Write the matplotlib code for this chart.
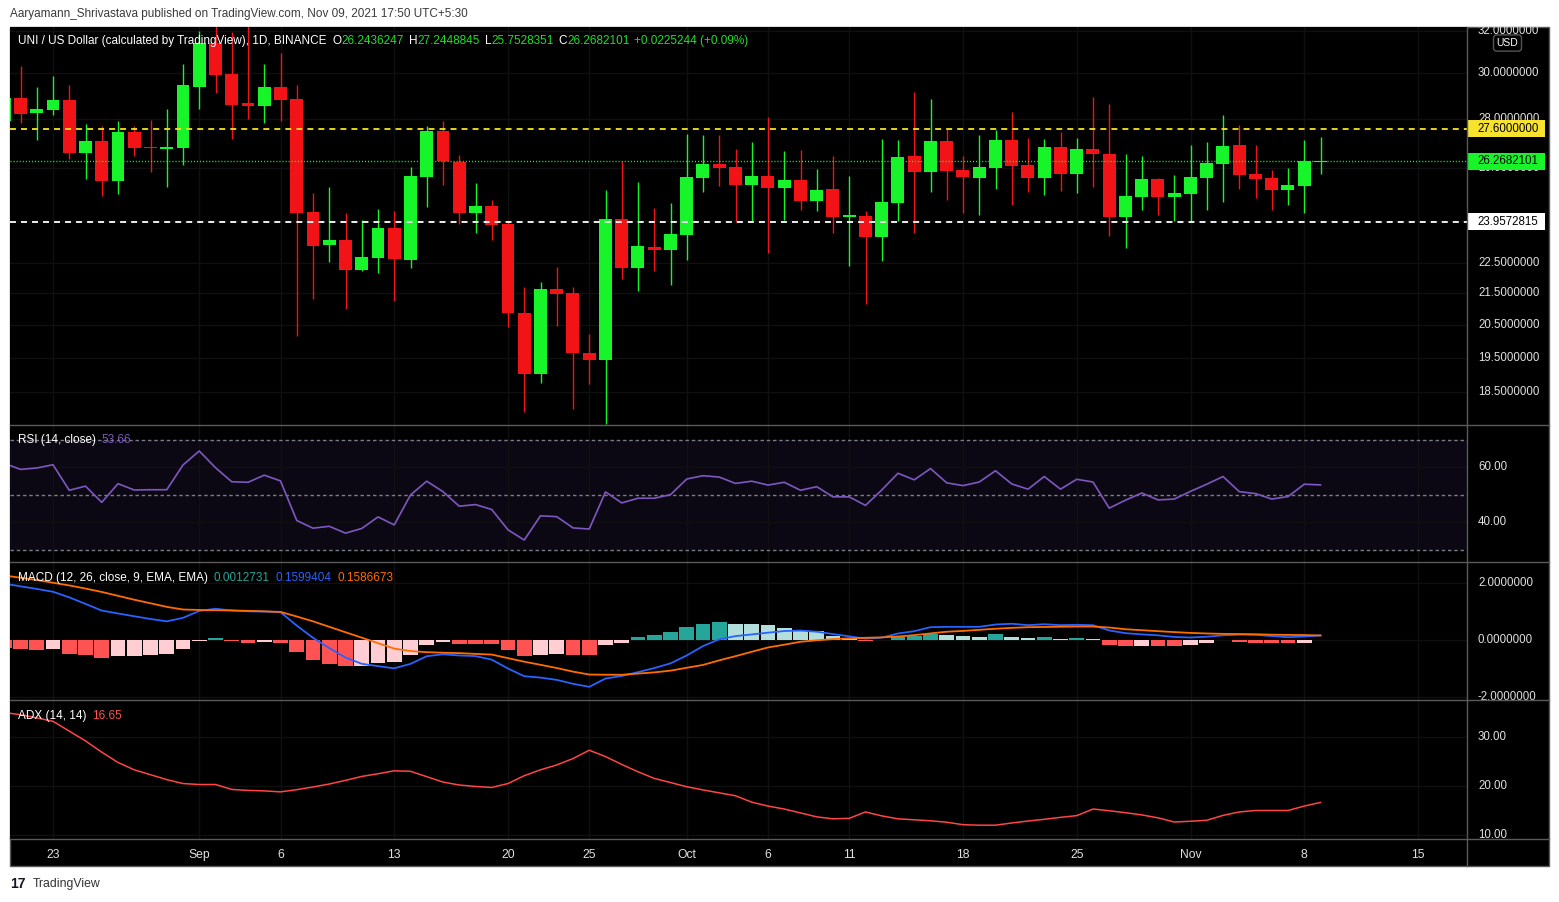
import numpy as np
import pandas as pd
import matplotlib
matplotlib.use('Agg')
import matplotlib.pyplot as plt
import matplotlib.dates as mdates
from matplotlib.patches import Rectangle
from matplotlib.lines import Line2D
from matplotlib.ticker import NullLocator
from matplotlib.transforms import Bbox, IdentityTransform, blended_transform_factory

plt.rcParams['font.family'] = ['Liberation Sans', 'DejaVu Sans']

# ---------------- datos ----------------
start_date = '2021-08-20'
end_date = '2021-11-09'

opens = [27.92, 28.91, 28.27, 28.39, 28.82, 26.60, 27.08, 25.49, 27.46, 26.84, 26.76, 26.80,
         29.39, 31.40, 29.98, 28.69, 28.56, 29.39, 28.86, 24.32, 23.14, 23.31,
         22.28, 22.68, 23.74, 22.62, 25.64, 27.50, 26.24, 24.29, 24.54, 23.88,
         20.87, 19.03, 21.64, 21.51, 19.64, 19.44, 24.06, 22.34, 23.06, 22.96,
         23.49, 25.61, 26.16, 26.04, 25.34, 25.68, 25.22, 25.53, 24.73, 25.18,
         24.14, 24.17, 23.42, 24.66, 26.47, 25.84, 27.08, 25.92, 25.61, 26.00,
         27.13, 26.12, 25.61, 26.84, 25.76, 26.76, 26.55, 24.14, 24.88, 25.57, 24.88,
         24.99, 25.61, 26.16, 26.92, 25.76, 25.61, 25.15, 25.30, 26.2436247]
highs = [29.26, 30.34, 29.39, 29.89, 29.48, 27.79, 27.71, 27.92, 27.71, 27.96, 28.43, 30.44,
         31.99, 32.60, 31.96, 32.30, 30.43, 30.95, 29.48, 25.03, 25.26, 24.29,
         24.03, 24.43, 24.36, 26.04, 27.71, 27.92, 26.51, 25.41, 24.77, 23.96,
         21.71, 21.87, 22.38, 21.71, 20.22, 25.15, 26.28, 25.45, 24.47, 24.66,
         27.37, 27.33, 27.33, 26.76, 27.04, 28.09, 26.68, 26.72, 25.96, 26.48,
         25.68, 24.36, 27.17, 27.13, 29.17, 28.86, 27.58, 26.48, 27.33, 27.54,
         28.30, 27.21, 27.17, 27.46, 27.21, 28.95, 28.65, 26.55, 26.48, 25.61, 25.72,
         26.92, 27.04, 28.17, 27.75, 26.92, 25.92, 26.00, 27.13, 27.2448845]
lows = [27.75, 27.85, 27.13, 28.19, 26.36, 25.57, 24.92, 24.99, 26.47, 25.84, 25.26, 26.12,
        28.42, 29.14, 27.17, 28.01, 27.85, 27.92, 20.16, 21.32, 22.55, 21.00,
        22.24, 22.17, 21.25, 22.34, 24.51, 25.34, 23.88, 23.56, 23.31, 20.43,
        17.96, 18.77, 20.46, 18.05, 18.74, 17.64, 21.97, 21.58, 22.24, 21.78,
        22.62, 25.07, 25.30, 23.96, 23.99, 22.86, 24.03, 24.40, 24.36, 23.56,
        22.41, 21.16, 22.58, 23.99, 23.56, 25.07, 24.77, 24.29, 24.21, 25.18,
        24.58, 25.07, 24.96, 25.11, 25.03, 25.26, 23.45, 23.03, 24.40, 24.21, 23.99,
        23.96, 24.40, 24.69, 25.18, 24.84, 24.40, 24.58, 24.29, 25.7528351]
closes = [28.91, 28.23, 28.43, 28.82, 26.60, 27.08, 25.49, 27.46, 26.80, 26.80, 26.84, 29.48,
          31.40, 29.93, 28.60, 28.57, 29.39, 28.82, 24.29, 23.10, 23.31, 22.28,
          22.72, 23.74, 22.65, 25.68, 27.50, 26.28, 24.29, 24.54, 23.85, 20.87,
          19.03, 21.64, 21.48, 19.64, 19.44, 24.06, 22.34, 23.10, 22.96, 23.52,
          25.64, 26.16, 26.00, 25.34, 25.68, 25.22, 25.53, 24.73, 25.15, 24.14,
          24.21, 23.42, 24.69, 26.43, 25.84, 27.08, 25.88, 25.64, 26.04, 27.13,
          26.08, 25.61, 26.84, 25.76, 26.76, 26.55, 24.14, 24.92, 25.57, 24.88, 25.03,
          25.64, 26.20, 26.88, 25.72, 25.57, 25.15, 25.34, 26.28, 26.2682101]

rsi_vals = [61.5, 59.3, 59.8, 61.0, 51.7, 53.2, 47.3, 54.1, 51.8, 51.9, 51.9, 60.9,
            66.0, 59.9, 54.8, 54.6, 57.2, 55.1, 40.7, 37.9, 38.6, 36.1,
            37.8, 42.0, 39.1, 50.0, 55.0, 51.2, 45.9, 46.5, 44.7, 37.3,
            33.6, 42.4, 42.1, 38.0, 37.6, 51.1, 47.1, 48.8, 48.8, 50.1,
            55.8, 57.0, 56.5, 54.2, 55.0, 53.6, 54.6, 51.7, 53.0, 49.3,
            49.3, 46.2, 51.8, 57.9, 55.5, 59.6, 54.4, 53.4, 54.7, 58.8,
            54.0, 52.1, 56.7, 52.1, 55.7, 54.7, 45.2, 48.1, 50.7, 48.2, 48.5,
            51.3, 53.9, 56.7, 51.2, 50.5, 48.5, 49.4, 53.9, 53.66]

macd_vals = [1.980, 1.884, 1.793, 1.692, 1.497, 1.267, 1.032, 0.931, 0.833, 0.737, 0.655, 0.778,
             1.020, 1.096, 1.035, 1.006, 0.998, 0.978, 0.505, 0.077, -0.284, -0.615,
             -0.834, -0.917, -0.994, -0.837, -0.568, -0.501, -0.543, -0.564, -0.689, -1.001,
             -1.270, -1.319, -1.399, -1.537, -1.643, -1.352, -1.262, -1.127, -0.985, -0.820,
             -0.542, -0.213, 0.027, 0.136, 0.196, 0.257, 0.315, 0.332, 0.291, 0.209,
             0.129, 0.046, 0.084, 0.229, 0.310, 0.450, 0.462, 0.462, 0.463, 0.543,
             0.571, 0.520, 0.554, 0.521, 0.533, 0.520, 0.334, 0.241, 0.197, 0.164, 0.107,
             0.088, 0.116, 0.164, 0.190, 0.182, 0.138, 0.098, 0.122, 0.1599404]
signal_vals = [2.263, 2.186, 2.105, 2.010, 1.915, 1.805, 1.686, 1.550, 1.414, 1.289, 1.163, 1.070,
               1.055, 1.043, 1.037, 1.023, 1.006, 0.985, 0.825, 0.655, 0.463, 0.272,
               0.082, -0.110, -0.302, -0.388, -0.427, -0.446, -0.460, -0.488, -0.511, -0.637,
               -0.761, -0.870, -0.983, -1.110, -1.212, -1.218, -1.220, -1.178, -1.136, -1.075,
               -0.974, -0.875, -0.714, -0.567, -0.413, -0.261, -0.165, -0.062, -0.009, 0.032,
               0.058, 0.078, 0.092, 0.123, 0.172, 0.231, 0.291, 0.319, 0.357, 0.395,
               0.426, 0.449, 0.458, 0.466, 0.473, 0.474, 0.438, 0.378, 0.344, 0.310, 0.278,
               0.249, 0.229, 0.215, 0.209, 0.202, 0.187, 0.178, 0.174, 0.1586673]
hist_vals = [-0.290, -0.310, -0.357, -0.310, -0.474, -0.532, -0.637, -0.567, -0.560, -0.509, -0.497, -0.322,
             -0.029, 0.053, -0.041, -0.099, -0.076, -0.099, -0.415, -0.708, -0.825, -0.918,
             -0.910, -0.813, -0.789, -0.509, -0.181, -0.076, -0.123, -0.128, -0.146, -0.357,
             -0.567, -0.509, -0.474, -0.509, -0.515, -0.181, -0.088, 0.088, 0.170, 0.287,
             0.439, 0.579, 0.626, 0.579, 0.579, 0.509, 0.427, 0.333, 0.310, 0.158,
             0.064, -0.029, 0.010, 0.099, 0.146, 0.228, 0.193, 0.158, 0.123, 0.205,
             0.123, 0.064, 0.088, 0.029, 0.053, 0.018, -0.158, -0.216, -0.210, -0.218, -0.222,
             -0.181, -0.111, 0.010, -0.053, -0.088, -0.111, -0.115, -0.088, 0.0012731]

adx_vals = [35.0, 34.55, 33.9, 33.2, 31.2, 29.2, 26.9, 24.8, 23.3, 22.3, 21.3, 20.5,
            20.3, 20.3, 19.3, 19.1, 19.0, 18.8, 19.25, 19.8, 20.4, 21.15,
            21.95, 22.5, 23.1, 23.0, 21.9, 20.8, 20.2, 19.9, 19.7, 20.5,
            22.1, 23.3, 24.3, 25.6, 27.3, 26.0, 24.4, 22.9, 21.55, 20.7,
            19.85, 19.2, 18.6, 18.0, 16.7, 15.9, 15.3, 14.5, 13.7, 13.3,
            13.4, 14.7, 13.9, 13.3, 13.1, 12.9, 12.6, 12.1, 12.0, 12.0,
            12.45, 12.85, 13.2, 13.6, 13.95, 15.3, 14.95, 14.55, 14.1, 13.5, 12.65,
            12.8, 13.0, 14.0, 14.7, 15.0, 15.0, 15.0, 15.9, 16.65]

support = 23.9572815
resistance = 27.6
last_price = 26.2682101

price_ticks = [18.5, 19.5, 20.5, 21.5, 22.5, 24, 26, 28, 30, 32]
rsi_ticks = [40, 60]
macd_ticks = [-2, 0, 2]
adx_ticks = [10, 20, 30]
date_ticks = ['2021-08-23', '2021-09-01', '2021-09-06', '2021-09-13', '2021-09-20', '2021-09-25',
              '2021-10-01', '2021-10-06', '2021-10-11', '2021-10-18', '2021-10-25',
              '2021-11-01', '2021-11-08', '2021-11-15']
date_labels = ['23', 'Sep', '6', '13', '20', '25', 'Oct', '6', '11', '18', '25', 'Nov', '8', '15']

# ---------------- figura ----------------
W, H = 1559, 902
fig = plt.figure(figsize=(W / 100, H / 100), dpi=100, facecolor='white')

def fx(px):
    return px / W

def fy(py):
    return 1 - py / H

GREEN = '#17f52a'
RED = '#f21317'
TXT = '#e0e0e0'
SEP = '#5a5a5a'
GRID = '#101010'
FS = 8.3
FS_T = 8.5

# fondo negro del grafico
fig.add_artist(Rectangle((fx(10), fy(866)), fx(1549) - fx(10), fy(27) - fy(866),
                         transform=fig.transFigure, facecolor='black', edgecolor=SEP, lw=1, zorder=0))

def panel(top, bottom):
    a = fig.add_axes([fx(10), fy(bottom), fx(1467) - fx(10), fy(top) - fy(bottom)])
    a.set_facecolor('black')
    for s in a.spines.values():
        s.set_visible(False)
    return a

ax_p = panel(27, 425)
ax_r = panel(425, 562)
ax_m = panel(562, 700)
ax_a = panel(700, 839)

dates = pd.date_range(start_date, end_date, freq='D')
x = mdates.date2num(dates)
xt = mdates.date2num(pd.to_datetime(date_ticks))
day_px = 16.25
x_ref = mdates.date2num(pd.Timestamp('2021-08-23'))
xlim = (x_ref - (53 - 10) / day_px, x_ref + (1467 - 53) / day_px)

for a in (ax_p, ax_r, ax_m, ax_a):
    a.set_xlim(*xlim)
    a.set_xticks(xt)
    a.grid(axis='x', color=GRID, lw=1)
    a.tick_params(axis='x', length=0, labelbottom=False)
    a.tick_params(axis='y', which='both', length=0, labelleft=False, labelright=False)

ax_a.set_xticklabels(date_labels)
ax_a.tick_params(axis='x', labelbottom=True, labelcolor=TXT, labelsize=FS + 0.4, pad=7)

# ---------------- velas ----------------
o = np.array(opens)
c = np.array(closes)
cols = [GREEN if cc >= oo else RED for oo, cc in zip(o, c)]
ax_p.set_yscale('log')
ax_p.set_ylim(17.61, 32.19)
ax_p.set_yticks(price_ticks)
ax_p.yaxis.set_minor_locator(NullLocator())
ax_p.tick_params(axis='y', which='both', length=0, labelleft=False, labelright=False)
ax_p.grid(axis='y', color=GRID, lw=1)
ax_p.vlines(x, lows, highs, colors=cols, lw=1.0, zorder=3)
ax_p.bar(x, c - o, bottom=o, width=0.8, color=cols, zorder=4)
ax_p.axhline(resistance, color='#f5e51c', lw=1.3, ls=(0, (3.3, 2.8)), zorder=5)
ax_p.axhline(support, color='white', lw=1.3, ls=(0, (3.3, 2.8)), zorder=5)
ax_p.axhline(last_price, color=GREEN, lw=1.0, ls=(0, (0.8, 1.4)), zorder=5)

# ---------------- RSI ----------------
ax_r.set_ylim(25.6, 75.45)
ax_r.axhspan(30, 70, color='#7E57C2', alpha=0.1, lw=0)
for lvl in (70, 50, 30):
    ax_r.axhline(lvl, color='#787b86', lw=1, ls=(0, (2.5, 2)))
ax_r.plot(x, rsi_vals, color='#7E57C2', lw=1.2)
ax_r.set_yticks(rsi_ticks)
ax_r.grid(axis='y', color=GRID, lw=1)

# ---------------- MACD ----------------
ax_m.set_ylim(-2.105, 2.737)
hcols = []
for i, h in enumerate(hist_vals):
    prev = hist_vals[i - 1] if i > 0 else h
    if h >= 0:
        hcols.append('#26A69A' if prev < h else '#B2DFDB')
    else:
        hcols.append('#FFCDD2' if prev < h else '#FF5252')
ax_m.bar(x, hist_vals, width=0.9, color=hcols, zorder=2)
ax_m.plot(x, macd_vals, color='#2962FF', lw=1.3, zorder=3)
ax_m.plot(x, signal_vals, color='#FF6D00', lw=1.3, zorder=3)
ax_m.set_yticks(macd_ticks)
ax_m.grid(axis='y', color=GRID, lw=1)

# ---------------- ADX ----------------
ax_a.set_ylim(9.18, 37.55)
ax_a.plot(x, adx_vals, color='#ff4545', lw=1.1)
ax_a.set_yticks(adx_ticks)
ax_a.grid(axis='y', color=GRID, lw=1)

# ---------------- eje derecho ----------------
def right_labels(a, ticks, fmt, top, bottom):
    tr = blended_transform_factory(fig.transFigure, a.transData)
    clip = Bbox.from_extents(1467, H - bottom, 1549, H - top)
    for t in ticks:
        fig.text(fx(1478), t, fmt.format(t), transform=tr, color=TXT, fontsize=FS,
                 va='center', ha='left', clip_on=True, clip_box=clip)

right_labels(ax_p, price_ticks, '{:.7f}', 27, 425)
right_labels(ax_r, [float(v) for v in rsi_ticks], '{:.2f}', 425, 562)
right_labels(ax_m, [float(v) for v in macd_ticks], '{:.7f}', 562, 700)
right_labels(ax_a, [float(v) for v in adx_ticks], '{:.2f}', 700, 839)

def price_tag(v, fc):
    yd = ax_p.transData.transform((x[0], v))[1]
    fig.add_artist(Rectangle((1467, yd - 8.5), 78, 17, transform=IdentityTransform(),
                             facecolor=fc, edgecolor='none', zorder=6))
    fig.text(1477, yd, '{:.7f}'.format(v), transform=IdentityTransform(), color='black',
             fontsize=FS, va='center', ha='left', zorder=7)

price_tag(resistance, '#f7e22e')
price_tag(last_price, GREEN)
price_tag(support, 'white')

fig.text(fx(1507.5), fy(43), 'USD', color='white', fontsize=7.5, ha='center', va='center', zorder=8,
         bbox=dict(boxstyle='round,pad=0.3,rounding_size=0.3', fc='black', ec='#555555', lw=1))

# separadores
for yy in (425, 562, 700, 839):
    fig.add_artist(Line2D([fx(10), fx(1549)], [fy(yy), fy(yy)], color=SEP, lw=1, zorder=9))
fig.add_artist(Line2D([fx(1467), fx(1467)], [fy(27), fy(866)], color=SEP, lw=1, zorder=9))

# ---------------- textos ----------------
renderer = fig.canvas.get_renderer()

def text_row(x_px, y_px, parts):
    for s, col, gap in parts:
        t = fig.text(fx(x_px), fy(y_px), s, color=col, fontsize=FS_T, va='center', ha='left', zorder=10)
        x_px += t.get_window_extent(renderer=renderer).width + gap

VG = '#22dd2c'
text_row(18, 41, [('UNI / US Dollar (calculated by TradingView), 1D, BINANCE', 'white', 6),
                  ('O', 'white', 0), ('26.2436247', VG, 5),
                  ('H', 'white', 0), ('27.2448845', VG, 5),
                  ('L', 'white', 0), ('25.7528351', VG, 5),
                  ('C', 'white', 0), ('26.2682101', VG, 5),
                  ('+0.0225244 (+0.09%)', VG, 0)])
text_row(18, 440, [('RSI (14, close)', 'white', 5), ('53.66', '#7E57C2', 0)])
text_row(18, 578, [('MACD (12, 26, close, 9, EMA, EMA)', 'white', 6), ('0.0012731', '#26A69A', 6),
                   ('0.1599404', '#2962FF', 6), ('0.1586673', '#FF6D00', 0)])
text_row(18, 716, [('ADX (14, 14)', 'white', 6), ('16.65', '#FF5252', 0)])

fig.text(fx(10), fy(14), 'Aaryamann_Shrivastava published on TradingView.com, Nov 09, 2021 17:50 UTC+5:30',
         color='#3a3a3a', fontsize=FS_T, va='center', ha='left')
fig.text(fx(10), fy(884), '17', color='#131722', fontsize=10, fontweight='bold', va='center', ha='left')
fig.text(fx(33), fy(884), 'TradingView', color='#333333', fontsize=FS + 0.5, va='center', ha='left')

plt.savefig('out.png', dpi=100, facecolor='white')
